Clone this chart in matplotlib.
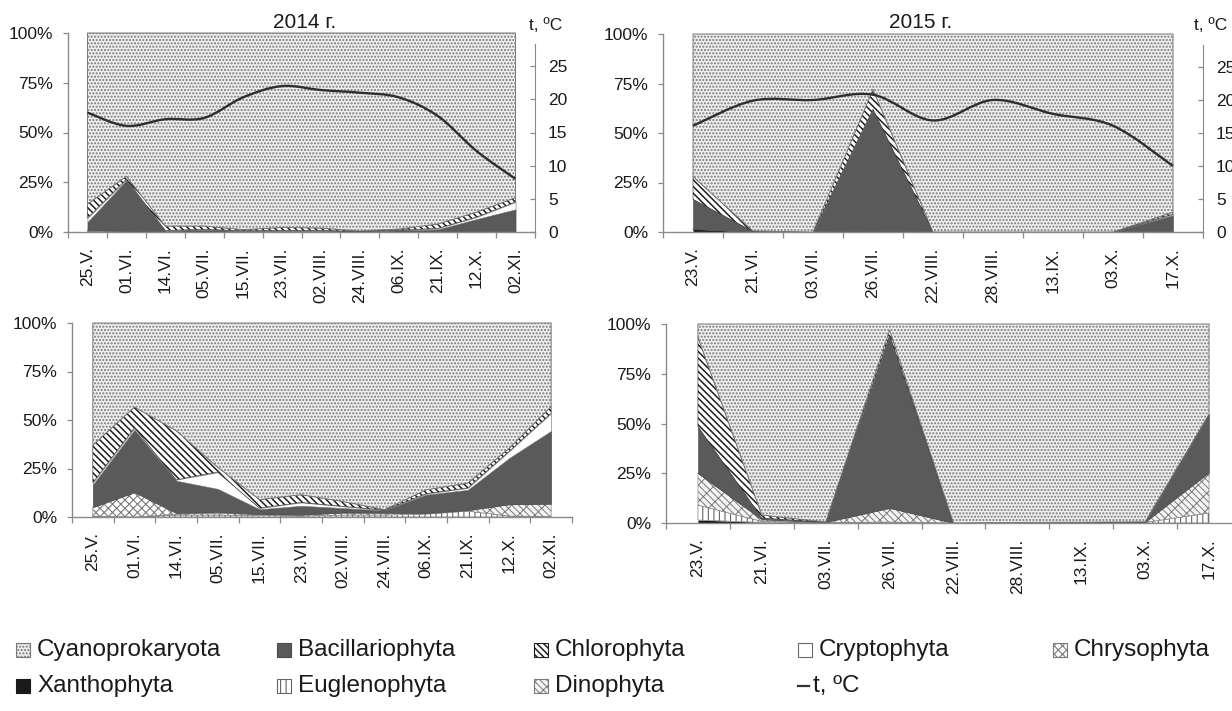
import numpy as np
import matplotlib
matplotlib.use('Agg')
import matplotlib.pyplot as plt
from matplotlib.path import Path
from matplotlib.patches import PathPatch, Rectangle
from matplotlib.lines import Line2D

plt.rcParams['font.family'] = ['Liberation Sans', 'DejaVu Sans']
plt.rcParams['hatch.linewidth'] = 1.0

# ---------------- data ----------------
dates_2014 = ['25.V.', '01.VI.', '14.VI.', '05.VII.', '15.VII.', '23.VII.',
              '02.VIII.', '24.VIII.', '06.IX.', '21.IX.', '12.X.', '02.XI.']
dates_2015 = ['23.V.', '21.VI.', '03.VII.', '26.VII.', '22.VIII.', '28.VIII.',
              '13.IX.', '03.X.', '17.X.']

temp_2014 = [18.0, 16.0, 17.0, 17.2, 20.3, 22.0, 21.4, 21.0, 20.3, 17.5, 12.2, 8.0]
temp_2015 = [16.1, 19.9, 20.0, 20.8, 16.9, 20.0, 17.9, 16.1, 10.0]

# top-left panel (2014), % of total
tl_xantho = [0.5, 0.3, 0, 0, 0, 0, 0, 0, 0, 0, 0, 0]
tl_eugleno = [0, 0, 0, 0, 0, 0, 0, 0, 0, 0, 0, 0]
tl_dino = [0, 0, 0, 0, 0, 0, 0, 0, 0, 0, 0, 0]
tl_chryso = [0.5, 0.2, 0, 0.3, 0.2, 0.2, 0.2, 0, 0.3, 0.3, 0, 0]
tl_bacill = [4.0, 25.5, 0.5, 0.7, 0.3, 0.3, 0.3, 0.2, 0.5, 1.0, 6.5, 11.4]
tl_crypto = [2.0, 0.5, 0.3, 0.3, 0.2, 0.3, 0.3, 0.1, 0.2, 0.5, 1.0, 3.7]
tl_chloro = [7.0, 1.5, 2.2, 1.7, 0.5, 1.5, 1.2, 0.2, 0.5, 2.2, 2.5, 2.2]
tl_cyano = [86.0, 72.0, 97.0, 97.0, 98.8, 97.7, 98.0, 99.5, 98.5, 96.0, 90.0, 82.7]

# top-right panel (2015)
tr_xantho = [1.5, 0, 0, 0.5, 0, 0, 0, 0, 0]
tr_eugleno = [0, 0, 0, 0, 0, 0, 0, 0, 0]
tr_dino = [0, 0, 0, 0, 0, 0, 0, 0, 0]
tr_chryso = [0, 0, 0, 0, 0, 0, 0, 0, 0]
tr_bacill = [15.0, 0.3, 0, 61.5, 0, 0, 0, 0, 8.5]
tr_crypto = [0, 0, 0, 0, 0, 0, 0, 0, 0.5]
tr_chloro = [11.5, 0.2, 0, 10.0, 0, 0, 0, 0, 1.0]
tr_cyano = [72.0, 99.5, 100.0, 28.0, 100.0, 100.0, 100.0, 100.0, 90.0]

# bottom-left panel (2014)
bl_xantho = [0, 0, 0, 0, 0, 0, 0, 0, 0, 0, 0, 0]
bl_eugleno = [0.5, 0, 1.0, 1.0, 0.7, 0.5, 1.0, 1.0, 1.5, 3.0, 0.5, 0.3]
bl_dino = [0, 0, 0.5, 1.0, 0.5, 0.5, 1.0, 1.0, 0.5, 0.5, 6.0, 6.5]
bl_chryso = [4.5, 12.7, 0.5, 0.5, 0.3, 0.2, 0.3, 0.2, 0, 0, 0, 0]
bl_bacill = [11.7, 32.3, 16.7, 12.0, 2.5, 4.6, 2.3, 1.2, 9.5, 10.5, 24.0, 37.6]
bl_crypto = [1.0, 1.0, 0.5, 8.6, 0.6, 1.7, 0.9, 0.2, 0.5, 1.0, 3.5, 9.1]
bl_chloro = [19.3, 10.7, 25.3, 2.5, 4.4, 4.0, 2.5, 0.2, 2.0, 2.5, 1.6, 3.5]
bl_cyano = [63.0, 43.3, 55.5, 74.4, 91.0, 88.5, 92.0, 96.2, 86.0, 82.5, 64.4, 43.0]

# bottom-right panel (2015)
br_xantho = [1.5, 0.3, 0, 0, 0, 0, 0, 0, 0]
br_eugleno = [7.5, 0.5, 0.2, 0.5, 0, 0.2, 0.3, 0.3, 5.0]
br_dino = [16.0, 1.0, 0.2, 7.0, 0, 0, 0, 0.2, 20.4]
br_chryso = [0, 0, 0, 0, 0, 0, 0, 0, 0]
br_bacill = [23.5, 0.7, 0, 87.0, 0, 0, 0, 0, 29.0]
br_crypto = [0, 0, 0, 0, 0, 0, 0, 0, 0]
br_chloro = [44.8, 1.5, 0.1, 2.5, 0, 0.1, 0.1, 0.1, 0.3]
br_cyano = [6.7, 96.0, 99.5, 3.0, 100.0, 99.7, 99.6, 99.4, 45.3]

# ---------------- styles ----------------
order = ['Xanthophyta', 'Euglenophyta', 'Dinophyta', 'Chrysophyta',
         'Bacillariophyta', 'Cryptophyta', 'Chlorophyta', 'Cyanoprokaryota']
styles = {
    'Cyanoprokaryota': dict(facecolor='#efefef', edgecolor='#787878', hatch='.....', lw=0.7, hlw=1.0),
    'Bacillariophyta': dict(facecolor='#5a5a5a', edgecolor='#4a4a4a', hatch=None, lw=0.4, hlw=1.0),
    'Chlorophyta': dict(facecolor='white', edgecolor='#1e1e1e', hatch='\\\\\\\\\\', lw=0.4, hlw=1.1),
    'Cryptophyta': dict(facecolor='white', edgecolor='#6a6a6a', hatch=None, lw=0.4, hlw=1.0),
    'Chrysophyta': dict(facecolor='white', edgecolor='#7a7a7a', hatch='xxxx', lw=0.4, hlw=0.8),
    'Xanthophyta': dict(facecolor='#1a1a1a', edgecolor='#1a1a1a', hatch=None, lw=0.0, hlw=1.0),
    'Euglenophyta': dict(facecolor='white', edgecolor='#666666', hatch='|||', lw=0.4, hlw=0.8),
    'Dinophyta': dict(facecolor='#f4f4f4', edgecolor='#7a7a7a', hatch='xx\\\\\\', lw=0.4, hlw=0.7),
}

W, H = 1232, 711
fig = plt.figure(figsize=(W / 100, H / 100), dpi=100)
AX_COL = '#8a8a8a'
TXT = '#1a1a1a'
FS = 12.5


def px_axes(x0, x1, ytop, ybot):
    return fig.add_axes([x0 / W, 1 - ybot / H, (x1 - x0) / W, (ybot - ytop) / H])


def smooth_path(xs, ys):
    pts = np.column_stack([xs, ys]).astype(float)
    n = len(pts)
    verts = [pts[0]]
    codes = [Path.MOVETO]
    for i in range(n - 1):
        p0 = pts[i - 1] if i > 0 else pts[i]
        p1 = pts[i]
        p2 = pts[i + 1]
        p3 = pts[i + 2] if i + 2 < n else pts[i + 1]
        c1 = p1 + (p2 - p0) / 6.0
        c2 = p2 - (p3 - p1) / 6.0
        verts += [c1, c2, p2]
        codes += [Path.CURVE4] * 3
    return Path(verts, codes)


def draw_panel(ax, labels, data, temp=None):
    n = len(labels)
    x = np.arange(n)
    base = np.zeros(n)
    for name in order:
        v = np.array(data[name], dtype=float) / 100.0
        st = styles[name]
        with plt.rc_context({'hatch.linewidth': st['hlw']}):
            ax.fill_between(x, base, base + v, facecolor=st['facecolor'],
                            edgecolor=st['edgecolor'], hatch=st['hatch'],
                            linewidth=st['lw'], clip_on=False)
        base = base + v
    ax.set_xlim(-0.5, n - 0.5)
    ax.set_ylim(0, 1)
    ax.set_yticks([0, 0.25, 0.5, 0.75, 1.0])
    ax.set_yticklabels(['0%', '25%', '50%', '75%', '100%'])
    ax.set_xticks(x)
    ax.set_xticklabels(labels, rotation=90)
    ax.set_xticks(np.arange(-0.5, n), minor=True)
    ax.tick_params(axis='x', which='major', length=0, pad=11, labelsize=FS, labelcolor=TXT)
    ax.tick_params(axis='x', which='minor', length=4.3, width=0.9, direction='out', color=AX_COL)
    ax.tick_params(axis='y', length=3.6, width=0.9, pad=7, direction='out', color=AX_COL,
                   labelsize=FS, labelcolor=TXT)
    for s in ['top', 'right']:
        ax.spines[s].set_visible(False)
    for s in ['left', 'bottom']:
        ax.spines[s].set_color(AX_COL)
        ax.spines[s].set_linewidth(1.0)
    ax.patch.set_alpha(0)
    if temp is not None:
        ax2 = ax.twinx()
        ax2.set_ylim(0, 30)
        ax2.set_yticks([0, 5, 10, 15, 20, 25])
        ax2.tick_params(axis='y', length=3.6, width=0.9, pad=9.4, direction='in',
                        color=AX_COL, labelsize=FS, labelcolor=TXT)
        for s in ['top', 'left', 'bottom']:
            ax2.spines[s].set_visible(False)
        ax2.spines['right'].set_color(AX_COL)
        ax2.spines['right'].set_bounds(0, 28.4)
        ax2.add_patch(PathPatch(smooth_path(x, temp), facecolor='none',
                                edgecolor='#2e2e2e', lw=1.7))
    return ax


def pack(xa, eu, di, ch, ba, cr, cl, cy):
    return {'Xanthophyta': xa, 'Euglenophyta': eu, 'Dinophyta': di, 'Chrysophyta': ch,
            'Bacillariophyta': ba, 'Cryptophyta': cr, 'Chlorophyta': cl, 'Cyanoprokaryota': cy}


ax_tl = px_axes(68, 535, 33, 232)
draw_panel(ax_tl, dates_2014, pack(tl_xantho, tl_eugleno, tl_dino, tl_chryso, tl_bacill,
                                    tl_crypto, tl_chloro, tl_cyano), temp_2014)
ax_tr = px_axes(663, 1203, 34, 232)
draw_panel(ax_tr, dates_2015, pack(tr_xantho, tr_eugleno, tr_dino, tr_chryso, tr_bacill,
                                    tr_crypto, tr_chloro, tr_cyano), temp_2015)
ax_bl = px_axes(72, 572, 323, 517)
draw_panel(ax_bl, dates_2014, pack(bl_xantho, bl_eugleno, bl_dino, bl_chryso, bl_bacill,
                                    bl_crypto, bl_chloro, bl_cyano))
ax_br = px_axes(666, 1241, 324, 523)
draw_panel(ax_br, dates_2015, pack(br_xantho, br_eugleno, br_dino, br_chryso, br_bacill,
                                    br_crypto, br_chloro, br_cyano))

fig.text(305 / W, 1 - 22 / H, '2014 г.', ha='center', va='center', fontsize=15, color=TXT)
fig.text(921 / W, 1 - 22 / H, '2015 г.', ha='center', va='center', fontsize=15, color=TXT)
fig.text(546 / W, 1 - 25 / H, 't, ºC', ha='center', va='center', fontsize=FS, color=TXT)
fig.text(1211 / W, 1 - 25 / H, 't, ºC', ha='center', va='center', fontsize=FS, color=TXT)

# ---------------- legend ----------------
lax = fig.add_axes([0, 0, 1, 1], zorder=-5)
lax.set_xlim(0, W)
lax.set_ylim(H, 0)
lax.axis('off')
legend_names = ['Cyanoprokaryota', 'Bacillariophyta', 'Chlorophyta', 'Cryptophyta',
                'Chrysophyta', 'Xanthophyta', 'Euglenophyta', 'Dinophyta']
col_x = [16, 277, 534, 798, 1053]
row_y = [650, 686]
for k, name in enumerate(legend_names):
    cx = col_x[k % 5]
    cy = row_y[k // 5]
    st = styles[name]
    with plt.rc_context({'hatch.linewidth': st['hlw']}):
        lax.add_patch(Rectangle((cx, cy - 7), 14, 14, facecolor=st['facecolor'],
                                edgecolor=st['edgecolor'] if name != 'Xanthophyta' else '#1a1a1a',
                                hatch=st['hatch'], lw=0.8))
    lax.text(cx + 21, cy, name, ha='left', va='center', fontsize=17.5, color=TXT)
lax.add_line(Line2D([col_x[3], col_x[3] + 11], [row_y[1], row_y[1]], color='#333333', lw=1.6))
lax.text(col_x[3] + 15, row_y[1], 't, ºC', ha='left', va='center', fontsize=17.5, color=TXT)

fig.savefig('out.png', dpi=100)
